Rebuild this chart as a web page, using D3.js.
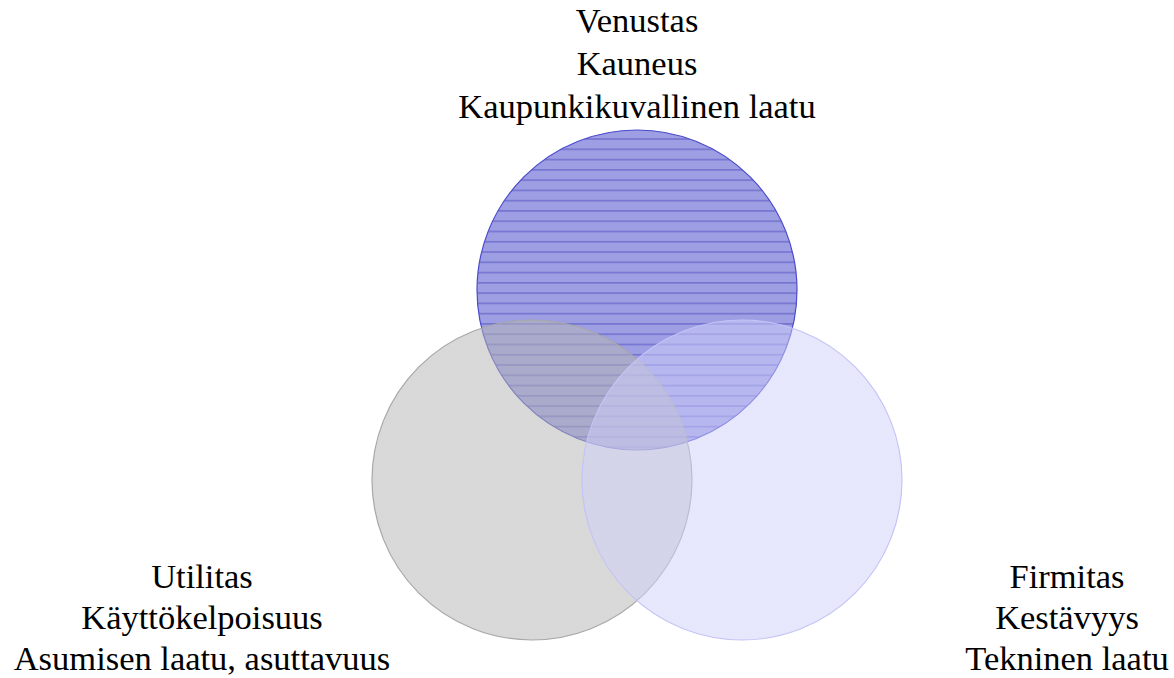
<!DOCTYPE html>
<head>
    <meta charset="utf-8">
    <script src="https://d3js.org/d3.v7.min.js"></script>
    <style>
        body { margin: 0; background: #fff; }
        text { font-family: "Liberation Serif", "Times New Roman", serif; }
    </style>
</head>
<body>
<svg width="1174" height="678"></svg>

<script>
    // sets of the diagram (Vitruvian triad)
    var sets = ["Venustas", "Utilitas", "Firmitas"];
    var meanings = ["Kauneus", "Käyttökelpoisuus", "Kestävyys"];
    var qualities = ["Kaupunkikuvallinen laatu", "Asumisen laatu, asuttavuus", "Tekninen laatu"];
    var setSizes = [1, 1, 1];
    // relative placement of the set centres in diagram units
    var setX = [0, -1, 1];
    var setY = [1, 0, 0];

    var svg = d3.select("svg");

    var x = d3.scaleLinear().domain([-1, 1]).range([532, 742]);
    var y = d3.scaleLinear().domain([0, 1]).range([480, 290]);
    var r = d3.scaleSqrt().domain([0, 1]).range([0, 160]);

    var fills = ["url(#pat-blue)", "url(#pat-grey)", "url(#pat-lav)"];
    var strokes = ["#4a4acc", "#a8a8a8", "#c4c4f6"];
    var opac = [1, 0.52, 0.5];

    // patterns
    var defs = svg.append("defs");
    function dither(id, c1, c2, lines) {
        var h = lines ? 10.27 : 4;
        var p = defs.append("pattern")
            .attr("id", id)
            .attr("patternUnits", "userSpaceOnUse")
            .attr("width", 4)
            .attr("height", h);
        p.append("rect").attr("width", 4).attr("height", h).attr("fill", c1);
        for (var i = 0; i < h; i += 2) {
            p.append("rect").attr("x", 0).attr("y", i).attr("width", 1).attr("height", 1).attr("fill", c2);
            p.append("rect").attr("x", 2).attr("y", i).attr("width", 1).attr("height", 1).attr("fill", c2);
            p.append("rect").attr("x", 1).attr("y", i + 1).attr("width", 1).attr("height", 1).attr("fill", c2);
            p.append("rect").attr("x", 3).attr("y", i + 1).attr("width", 1).attr("height", 1).attr("fill", c2);
        }
        if (lines) {
            p.append("rect").attr("x", 0).attr("y", 5).attr("width", 4).attr("height", 1.1).attr("fill", "#6060c8");
        }
    }
    dither("pat-blue", "#9a9ae2", "#a2a2e6", true);
    dither("pat-grey", "#b2b2b2", "#b8b8b8", false);
    dither("pat-lav", "#cdcdfa", "#d2d2fc", false);

    var data = sets.map(function(d, i) {
        return {name: d, size: setSizes[i], cx: setX[i], cy: setY[i], i: i};
    });

    svg.append("g")
        .selectAll("circle")
        .data(data)
        .enter()
        .append("circle")
        .attr("cx", function(d) { return x(d.cx); })
        .attr("cy", function(d) { return y(d.cy); })
        .attr("r", function(d) { return r(d.size); })
        .attr("fill", function(d) { return fills[d.i]; })
        .attr("fill-opacity", function(d) { return opac[d.i]; })
        .attr("stroke", function(d) { return strokes[d.i]; })
        .attr("stroke-width", 1.2);

    // labels
    var labelX = [637, 202, 1067];
    var labelY = [32, 588, 588];
    var lineH = [43, 41, 41];

    var labels = svg.append("g")
        .selectAll("text")
        .data(data)
        .enter()
        .append("text")
        .attr("text-anchor", "middle")
        .attr("font-size", 34.5)
        .attr("fill", "#000");

    labels.each(function(d) {
        var t = d3.select(this);
        [sets[d.i], meanings[d.i], qualities[d.i]].forEach(function(s, k) {
            t.append("tspan")
                .attr("x", labelX[d.i])
                .attr("y", labelY[d.i] + k * lineH[d.i])
                .text(s);
        });
    });
</script>
</body>
